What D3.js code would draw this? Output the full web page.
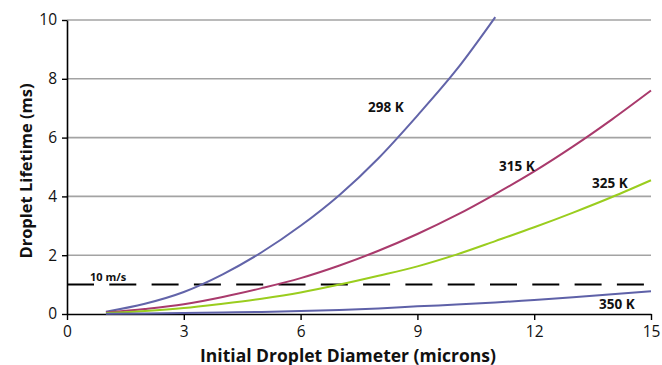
<!DOCTYPE html>
<html>
<head>
<meta charset="utf-8">
<script src="https://cdn.jsdelivr.net/npm/d3@7"></script>
<style>
  html, body { margin: 0; padding: 0; background: #fff; }
  svg { display: block; }
  text { font-family: "Open Sans", Lato, sans-serif; fill: #111; }
</style>
</head>
<body>
<svg id="chart" width="662" height="365"></svg>
<script>
// Initial droplet diameters (microns)
const diameters = [1, 2, 3, 4, 5, 6, 7, 8, 9, 10, 11, 12, 13, 14, 15];

// Droplet lifetime (ms) for each ambient temperature
const life298 = [0.08, 0.35, 0.75, 1.35, 2.1, 3.0, 4.05, 5.3, 6.75, 8.3, 10.1];
const life315 = [0.05, 0.17, 0.33, 0.58, 0.88, 1.22, 1.65, 2.15, 2.72, 3.36, 4.08, 4.85, 5.7, 6.62, 7.6];
const life325 = [0.03, 0.1, 0.2, 0.35, 0.52, 0.73, 1.0, 1.3, 1.62, 2.02, 2.48, 2.95, 3.45, 3.98, 4.55];
const life350 = [0.01, 0.02, 0.03, 0.05, 0.07, 0.1, 0.14, 0.19, 0.26, 0.32, 0.39, 0.48, 0.57, 0.67, 0.77];

const seriesNames = ["298 K", "315 K", "325 K", "350 K"];
const xTicks = [0, 3, 6, 9, 12, 15];
const yTicks = [0, 2, 4, 6, 8, 10];
const thresholdLife = 1;        // lifetime reached at 10 m/s
const thresholdLabel = "10 m/s";

const svg = d3.select("#chart");
const x = d3.scaleLinear().domain([0, 15]).range([67, 651]);
const y = d3.scaleLinear().domain([0, 10]).range([314, 20]);

// horizontal gridlines
svg.append("g").selectAll("line")
  .data(yTicks.filter(d => d > 0))
  .join("line")
  .attr("x1", x(0)).attr("x2", x(15))
  .attr("y1", d => y(d)).attr("y2", d => y(d))
  .attr("stroke", "#a3a3a3").attr("stroke-width", 1.6);

// axes
const xAxis = svg.append("g")
  .attr("transform", `translate(0,${y(0)})`)
  .call(d3.axisBottom(x).tickValues(xTicks).tickSize(6).tickPadding(6).tickSizeOuter(0));
const yAxis = svg.append("g")
  .attr("transform", `translate(${x(0)},0)`)
  .call(d3.axisLeft(y).tickValues(yTicks).tickSize(5).tickPadding(5).tickSizeOuter(0));
[xAxis, yAxis].forEach(g => {
  g.select(".domain").attr("stroke", "#000").attr("stroke-width", 1.6);
  g.selectAll(".tick line").attr("stroke", "#000").attr("stroke-width", 1.4);
  g.selectAll(".tick text").attr("font-family", "'Open Sans', sans-serif").attr("font-size", 15.5).attr("fill", "#111");
});

// dashed 10 m/s threshold
svg.append("line")
  .attr("x1", x(0)).attr("x2", x(15))
  .attr("y1", y(thresholdLife)).attr("y2", y(thresholdLife))
  .attr("stroke", "#000").attr("stroke-width", 2)
  .attr("stroke-dasharray", "27,15.3");

// lifetime curves
const series = [
  { name: seriesNames[0], values: life298, color: "#6264a9" },
  { name: seriesNames[1], values: life315, color: "#a93a6c" },
  { name: seriesNames[2], values: life325, color: "#9acd1e" },
  { name: seriesNames[3], values: life350, color: "#5e61a8" }
];
const line = d3.line()
  .x((d, i) => x(diameters[i]))
  .y(d => y(d))
  .curve(d3.curveMonotoneX);
svg.append("g").selectAll("path")
  .data(series)
  .join("path")
  .attr("d", d => line(d.values))
  .attr("fill", "none")
  .attr("stroke", d => d.color)
  .attr("stroke-width", 2);

// series labels
const labelPos = [
  { name: seriesNames[0], x: 368, y: 112 },
  { name: seriesNames[1], x: 499, y: 171 },
  { name: seriesNames[2], x: 592, y: 188 },
  { name: seriesNames[3], x: 599, y: 309 }
];
svg.append("g").selectAll("text")
  .data(labelPos)
  .join("text")
  .attr("x", d => d.x).attr("y", d => d.y)
  .attr("font-size", 13.5).attr("font-weight", "bold")
  .text(d => d.name);

svg.append("text")
  .attr("x", 90).attr("y", 281)
  .attr("font-size", 11).attr("font-weight", "bold")
  .text(thresholdLabel);

// axis titles
svg.append("text")
  .attr("x", 348).attr("y", 361.5)
  .attr("text-anchor", "middle")
  .attr("font-size", 17.5).attr("font-weight", "bold")
  .text("Initial Droplet Diameter (microns)");
svg.append("text")
  .attr("transform", "translate(32,171) rotate(-90)")
  .attr("text-anchor", "middle")
  .attr("font-size", 16.5).attr("font-weight", "bold")
  .text("Droplet Lifetime (ms)");
</script>
</body>
</html>
